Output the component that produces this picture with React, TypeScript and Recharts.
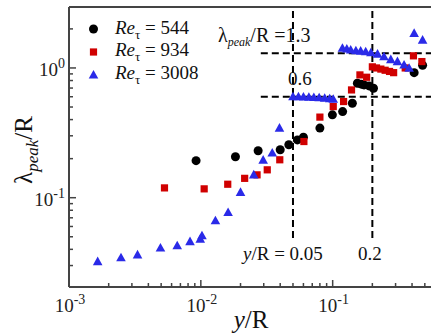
import React from "react";
import { ScatterChart, Scatter, XAxis, YAxis, ReferenceLine } from "recharts";

// Re_tau = 544 (black circles)
const re544X = [0.0092, 0.0183, 0.0272, 0.04, 0.0465, 0.054, 0.06, 0.08, 0.0995, 0.119, 0.141, 0.154, 0.165, 0.173, 0.189, 0.204, 0.415, 0.481];
const re544Y = [0.193, 0.207, 0.23, 0.234, 0.256, 0.279, 0.293, 0.344, 0.435, 0.461, 0.535, 0.762, 0.75, 0.74, 0.727, 0.698, 0.92, 1.05];

// Re_tau = 934 (red squares)
const re934X = [0.0053, 0.0106, 0.016, 0.0215, 0.0267, 0.0319, 0.0397, 0.0605, 0.08, 0.101, 0.121, 0.139, 0.161, 0.181, 0.2, 0.215, 0.232, 0.25, 0.27, 0.29, 0.355, 0.41, 0.475];
const re934Y = [0.119, 0.117, 0.127, 0.141, 0.15, 0.164, 0.196, 0.271, 0.418, 0.504, 0.551, 0.677, 0.884, 0.848, 1.02, 1.0, 0.98, 0.96, 0.94, 0.92, 1.0, 1.24, 1.12];

// Re_tau = 3008 (blue triangles)
const re3008X = [0.00165, 0.00248, 0.00331, 0.00494, 0.00662, 0.00828, 0.0099, 0.0102, 0.0129, 0.0161, 0.02, 0.0252, 0.0297, 0.0348, 0.0395, 0.05, 0.055, 0.06, 0.066, 0.072, 0.079, 0.087, 0.095, 0.101, 0.1186, 0.128, 0.137, 0.15, 0.163, 0.178, 0.195, 0.219, 0.245, 0.276, 0.31, 0.348, 0.38, 0.415, 0.481];
const re3008Y = [0.0322, 0.0345, 0.0363, 0.041, 0.0427, 0.0459, 0.048, 0.051, 0.0665, 0.077, 0.11, 0.15, 0.195, 0.221, 0.344, 0.6, 0.6, 0.598, 0.595, 0.592, 0.59, 0.585, 0.58, 0.575, 1.42, 1.4, 1.375, 1.36, 1.35, 1.335, 1.31, 1.28, 1.22, 1.16, 1.12, 1.055, 0.995, 1.85, 1.64];

const xMajor = [0.001, 0.01, 0.1];
const yMajor = [0.1, 1];
const xTicks = [
  0.001, 0.002, 0.003, 0.004, 0.005, 0.006, 0.007, 0.008, 0.009,
  0.01, 0.02, 0.03, 0.04, 0.05, 0.06, 0.07, 0.08, 0.09,
  0.1, 0.2, 0.3, 0.4, 0.5,
];
const yTicks = [0.03, 0.04, 0.05, 0.06, 0.07, 0.08, 0.09, 0.1, 0.2, 0.3, 0.4, 0.5, 0.6, 0.7, 0.8, 0.9, 1, 2];

const xDomain = [0.001, 0.557];
const yDomain = [0.0205, 2.95];

const FONT = "'Liberation Serif', 'Times New Roman', serif";
const AXIS = "#444";
const RED = "#d00000";
const BLUE = "#2a2ae8";

const zip = (xs: number[], ys: number[]) => xs.map((x, i) => ({ x, y: ys[i] }));

const isMajor = (v: number, list: number[]) => list.some((m) => Math.abs(m - v) < 1e-9);

const XTick = (props: any) => {
  const { x, y, payload } = props;
  const v = payload.value;
  const major = isMajor(v, xMajor);
  const exp = Math.round(Math.log10(v));
  return (
    <g>
      <line x1={x} x2={x} y1={y} y2={y - (major ? 7 : 4)} stroke={AXIS} strokeWidth={1.5} />
      {major && (
        <text x={x + 1} y={y + 25} textAnchor="middle" fontFamily={FONT} fontSize={19} fill="#222">
          10
          <tspan dy={-8} fontSize={14}>{exp}</tspan>
        </text>
      )}
    </g>
  );
};

const YTick = (props: any) => {
  const { x, y, payload } = props;
  const v = payload.value;
  const major = isMajor(v, yMajor);
  const exp = Math.round(Math.log10(v));
  return (
    <g>
      <line x1={x} x2={x + (major ? 7 : 4)} y1={y} y2={y} stroke={AXIS} strokeWidth={1.5} />
      {major && (
        <text x={x - 4} y={y + 8} textAnchor="end" fontFamily={FONT} fontSize={19} fill="#222">
          10
          <tspan dy={-8} fontSize={14}>{exp}</tspan>
        </text>
      )}
    </g>
  );
};

const circleShape = (p: any) => <circle cx={p.cx} cy={p.cy} r={4.5} fill="#000" />;
const squareShape = (p: any) => <rect x={p.cx - 3.6} y={p.cy - 3.6} width={7.2} height={7.2} fill={RED} />;
const triangleShape = (p: any) => (
  <polygon
    points={`${p.cx},${p.cy - 5} ${p.cx - 4.8},${p.cy + 3.6} ${p.cx + 4.8},${p.cy + 3.6}`}
    fill={BLUE}
  />
);

const dash = { stroke: "#000", strokeWidth: 2, strokeDasharray: "7 4" };

export default function App() {
  return (
    <div style={{ position: "absolute", left: 0, top: 0, width: 431, height: 335, background: "#fff" }}>
      <ScatterChart width={431} height={335} margin={{ top: 7, right: 0, bottom: 0, left: 0 }}>
        <XAxis
          type="number"
          dataKey="x"
          scale="log"
          domain={xDomain}
          allowDataOverflow
          ticks={xTicks}
          interval={0}
          tickSize={0}
          tickMargin={0}
          tick={<XTick />}
          height={48}
          axisLine={{ stroke: AXIS, strokeWidth: 2 }}
          tickLine={false}
        />
        <YAxis
          type="number"
          dataKey="y"
          scale="log"
          domain={yDomain}
          allowDataOverflow
          ticks={yTicks}
          interval={0}
          tickSize={0}
          tickMargin={0}
          tick={<YTick />}
          width={69}
          axisLine={{ stroke: AXIS, strokeWidth: 2 }}
          tickLine={false}
        />
        <ReferenceLine y={yDomain[1]} stroke={AXIS} strokeWidth={2} />
        <ReferenceLine segment={[{ x: 0.05, y: 0.049 }, { x: 0.05, y: yDomain[1] }]} {...dash} />
        <ReferenceLine segment={[{ x: 0.2, y: 0.049 }, { x: 0.2, y: yDomain[1] }]} {...dash} />
        <ReferenceLine segment={[{ x: 0.0285, y: 1.3 }, { x: xDomain[1], y: 1.3 }]} {...dash} />
        <ReferenceLine segment={[{ x: 0.0285, y: 0.6 }, { x: xDomain[1], y: 0.6 }]} {...dash} />
        <Scatter data={zip(re544X, re544Y)} shape={circleShape} isAnimationActive={false} />
        <Scatter data={zip(re934X, re934Y)} shape={squareShape} isAnimationActive={false} />
        <Scatter data={zip(re3008X, re3008Y)} shape={triangleShape} isAnimationActive={false} />
      </ScatterChart>

      <svg
        width={431}
        height={335}
        style={{ position: "absolute", left: 0, top: 0, pointerEvents: "none" }}
        fontFamily={FONT}
        fill="#111"
      >
        {/* legend */}
        <circle cx={93.5} cy={29} r={4.5} fill="#000" />
        <rect x={89.9} y={48.4} width={7.2} height={7.2} fill={RED} />
        <polygon points="93.5,70 88.7,78.6 98.3,78.6" fill={BLUE} />
        <text x={115} y={34} fontSize={19}>
          <tspan fontStyle="italic">Re</tspan>
          <tspan fontSize={13} dy={5}>τ</tspan>
          <tspan dy={-5}> = 544</tspan>
        </text>
        <text x={115} y={56} fontSize={19}>
          <tspan fontStyle="italic">Re</tspan>
          <tspan fontSize={13} dy={5}>τ</tspan>
          <tspan dy={-5}> = 934</tspan>
        </text>
        <text x={115} y={79} fontSize={19}>
          <tspan fontStyle="italic">Re</tspan>
          <tspan fontSize={13} dy={5}>τ</tspan>
          <tspan dy={-5}> = 3008</tspan>
        </text>

        {/* annotations */}
        <text x={218} y={42} fontSize={20}>
          λ
          <tspan fontSize={12} fontStyle="italic" dy={4}>peak</tspan>
          <tspan dy={-4}>/R =1.3</tspan>
        </text>
        <text x={288} y={85} fontSize={19}>0.6</text>
        <text x={243} y={260} fontSize={19}>
          <tspan fontStyle="italic">y</tspan>/R = 0.05
        </text>
        <text x={358} y={260} fontSize={19}>0.2</text>

        {/* axis titles */}
        <text x={251} y={328} fontSize={25} textAnchor="middle">
          <tspan fontStyle="italic">y</tspan>/R
        </text>
        <text transform="translate(32,150) rotate(-90)" fontSize={25} textAnchor="middle">
          λ
          <tspan fontSize={17} fontStyle="italic" dy={6}>peak</tspan>
          <tspan dy={-6}>/R</tspan>
        </text>
      </svg>
    </div>
  );
}
